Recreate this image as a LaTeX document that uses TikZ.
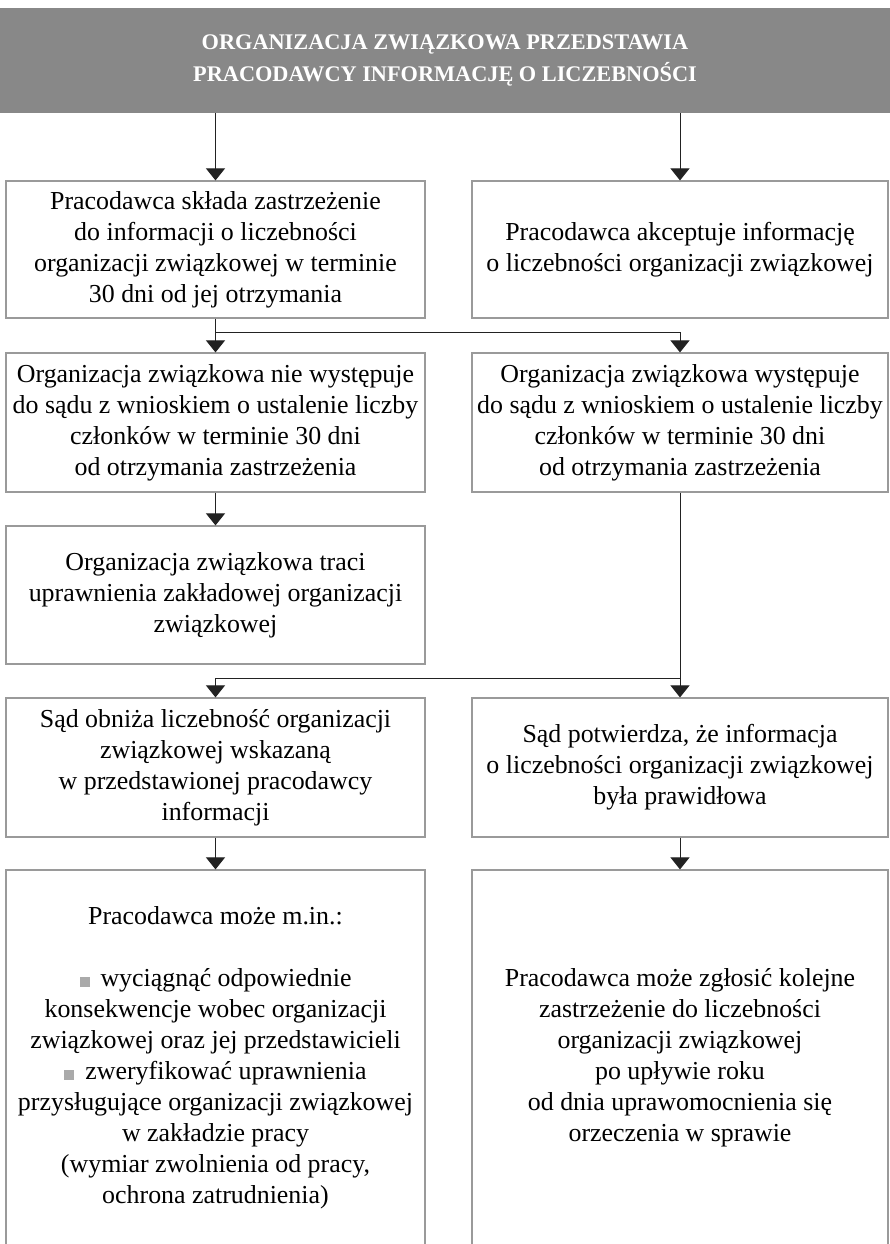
\documentclass[tikz,border=0pt]{standalone}
\usepackage{fontspec}
\setmainfont{Liberation Serif}
\usetikzlibrary{arrows.meta,calc}
\definecolor{hdrgray}{HTML}{888888}
\definecolor{boxgray}{HTML}{9A9A9A}
\definecolor{linegray}{HTML}{222222}
\definecolor{bulletgray}{HTML}{AAAAAA}
\newcommand{\sqbullet}{\textcolor{bulletgray}{\rule{10pt}{10pt}}\hspace{11pt}}
\begin{document}
\begin{tikzpicture}[x=1pt,y=-1pt,
  hdrbox/.style={fill=hdrgray, draw=none, text=white, align=center,
    font=\fontsize{22.3}{32}\selectfont\bfseries, inner sep=0pt},
  flowbox/.style={draw=boxgray, line width=1.2pt, fill=white, align=center,
    font=\fontsize{25.9}{31}\selectfont, inner sep=0pt},
  leftcol/.style={flowbox, minimum width=419pt},
  rightcol/.style={flowbox, minimum width=416pt},
  arr/.style={draw=linegray, line width=1pt, -{Triangle[width=19pt,length=12pt]}},
  conn/.style={draw=linegray, line width=1pt}
]
\clip (0,0) rectangle (890,1244);
\fill[white] (0,0) rectangle (890,1244);

\node[hdrbox, minimum width=890pt, minimum height=105pt] (hdr) at (445,60.5)
  {ORGANIZACJA ZWIĄZKOWA PRZEDSTAWIA\\PRACODAWCY INFORMACJĘ O LICZEBNOŚCI};

\node[leftcol, minimum height=137pt] (b1) at (215.5,249.5)
  {Pracodawca składa zastrzeżenie\\do informacji o liczebności\\organizacji związkowej w terminie\\30 dni od jej otrzymania};
\node[rightcol, minimum height=137pt] (b2) at (680,249.5)
  {Pracodawca akceptuje informację\\o liczebności organizacji związkowej};

\node[leftcol, minimum height=139pt] (b3) at (215.5,422.5)
  {Organizacja związkowa nie występuje\\do sądu z wnioskiem o ustalenie liczby\\członków w terminie 30 dni\\od otrzymania zastrzeżenia};
\node[rightcol, minimum height=139pt] (b4) at (680,422.5)
  {Organizacja związkowa występuje\\do sądu z wnioskiem o ustalenie liczby\\członków w terminie 30 dni\\od otrzymania zastrzeżenia};

\node[leftcol, minimum height=138pt] (b5) at (215.5,595)
  {Organizacja związkowa traci\\uprawnienia zakładowej organizacji\\związkowej};

\node[leftcol, minimum height=139pt] (b6) at (215.5,767.5)
  {Sąd obniża liczebność organizacji\\związkowej wskazaną\\w przedstawionej pracodawcy\\informacji};
\node[rightcol, minimum height=139pt] (b7) at (680,767.5)
  {Sąd potwierdza, że informacja\\o liczebności organizacji związkowej\\była prawidłowa};

\node[leftcol, minimum height=376pt] (b8) at (215.5,1058)
  {Pracodawca może m.in.:\\[31pt]\sqbullet wyciągnąć odpowiednie\\konsekwencje wobec organizacji\\związkowej oraz jej przedstawicieli\\\sqbullet zweryfikować uprawnienia\\przysługujące organizacji związkowej\\w zakładzie pracy\\(wymiar zwolnienia od pracy,\\ochrona zatrudnienia)};
\node[rightcol, minimum height=376pt] (b9) at (680,1058)
  {Pracodawca może zgłosić kolejne\\zastrzeżenie do liczebności\\organizacji związkowej\\po upływie roku\\od dnia uprawomocnienia się\\orzeczenia w sprawie};

% connectors
\draw[arr] (hdr.south -| b1.north) -- (b1.north);
\draw[arr] (hdr.south -| b2.north) -- (b2.north);
\draw[arr] (b1.south) -- (b3.north);
\coordinate (j1) at ($(b1.south)!0.4!(b3.north)$);
\draw[arr] (j1) -| (b4.north);
\draw[arr] (b3.south) -- (b5.north);
\coordinate (j2) at (b4.south |- 0,678);
\draw[conn] (b4.south) -- (j2);
\draw[arr] (j2) -- (b7.north);
\draw[arr] (j2) -| (b6.north);
\draw[arr] (b6.south) -- (b8.north);
\draw[arr] (b7.south) -- (b9.north);
\end{tikzpicture}
\end{document}
